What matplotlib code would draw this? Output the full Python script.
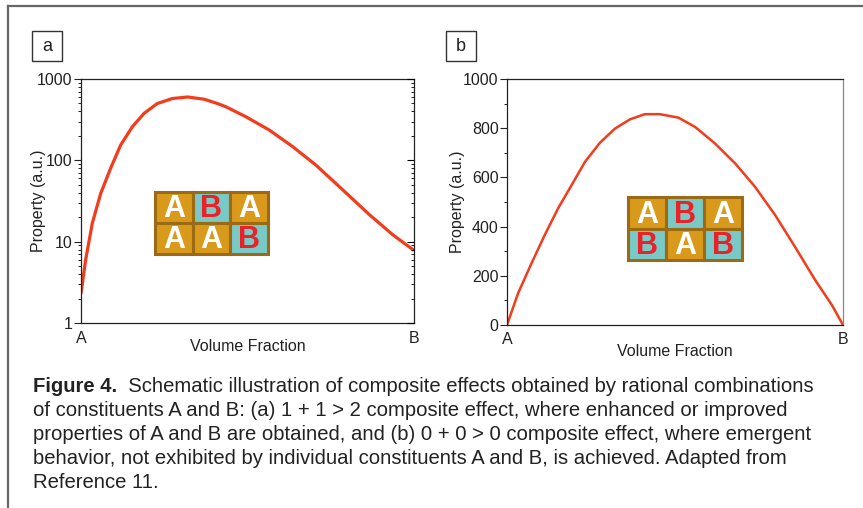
import numpy as np
import matplotlib
matplotlib.use('Agg')
import matplotlib.pyplot as plt
from matplotlib.patches import Rectangle
from matplotlib.lines import Line2D
from matplotlib.ticker import LogLocator, MultipleLocator, NullFormatter

plt.rcParams['font.family'] = ['Liberation Sans', 'DejaVu Sans']

# panel a: 1 + 1 > 2, log scale
frac_a = [0.0, 0.014, 0.034, 0.059, 0.089, 0.119, 0.154, 0.189, 0.229, 0.274, 0.32,
          0.37, 0.41, 0.436, 0.496, 0.566, 0.636, 0.706, 0.787, 0.867, 0.937, 1.0]
prop_a = [2.3, 6.0, 16.9, 39, 80, 154, 258, 377, 499, 575, 601,
          564, 499, 454, 342, 235, 147, 87, 43, 21.3, 12.1, 7.8]

# panel b: 0 + 0 > 0, linear scale
frac_b = [0.0, 0.033, 0.073, 0.112, 0.152, 0.192, 0.232, 0.276, 0.321, 0.366, 0.41,
          0.455, 0.51, 0.56, 0.619, 0.679, 0.738, 0.798, 0.857, 0.917, 0.967, 1.0]
prop_b = [0, 129, 251, 365, 474, 568, 663, 740, 798, 836, 857,
          857, 843, 805, 738, 657, 562, 447, 318, 183, 81, 0]

grid_a = [['A', 'B', 'A'], ['A', 'A', 'B']]
grid_b = [['A', 'B', 'A'], ['B', 'A', 'B']]

caption_bold = 'Figure 4.'
caption_lines = [
    '  Schematic illustration of composite effects obtained by rational combinations',
    'of constituents A and B: (a) 1 + 1 > 2 composite effect, where enhanced or improved',
    'properties of A and B are obtained, and (b) 0 + 0 > 0 composite effect, where emergent',
    'behavior, not exhibited by individual constituents A and B, is achieved. Adapted from',
    'Reference 11.',
]

W, H = 863, 508
fig = plt.figure(figsize=(W / 100, H / 100), dpi=100)


def box(x0, y0, x1, y1):
    # pixel box (top-left origin) -> figure fraction rect
    return [x0 / W, (H - y1) / H, (x1 - x0) / W, (y1 - y0) / H]


curve_col = '#f23c1c'
gold = '#d99a1c'
teal = '#79c9c6'
edge = '#9a6a14'
red = '#ea2228'
txt = '#222222'
fs = 11.5

# frame
fig.add_artist(Line2D([7.5 / W, 7.5 / W], [0, 1 - 6 / H], color='#666666', lw=1.6))
fig.add_artist(Line2D([7.5 / W, 1], [1 - 6 / H, 1 - 6 / H], color='#666666', lw=1.6))

# panel a
ax = fig.add_axes(box(81, 79, 414, 323))
ax.plot(frac_a, prop_a, color=curve_col, lw=2.3, solid_capstyle='butt')
ax.set_yscale('log')
ax.set_xlim(0, 1)
ax.set_ylim(1, 1000)
ax.set_yticks([1, 10, 100, 1000])
ax.set_yticklabels(['1', '10', '100', '1000'])
ax.yaxis.set_minor_locator(LogLocator(base=10, subs=np.arange(2, 10)))
ax.yaxis.set_minor_formatter(NullFormatter())
ax.tick_params(axis='y', which='major', direction='out', length=5, width=0.8,
               labelsize=fs, pad=1, colors=txt)
ax.tick_params(axis='y', which='minor', direction='out', length=2.5, width=0.6)
ax.set_xticks([0, 1])
ax.set_xticklabels(['A', 'B'])
ax.tick_params(axis='x', length=0, labelsize=fs, pad=6, colors=txt)
ax.set_ylabel('Property (a.u.)', fontsize=fs, labelpad=-6, color=txt)
ax.set_xlabel('Volume Fraction', fontsize=fs, labelpad=-5, color=txt)
for s in ax.spines.values():
    s.set_linewidth(0.9)
    s.set_color('#222222')

# inward ticks on the right spine
ar = ax.twinx()
ar.set_yscale('log')
ar.set_ylim(1, 1000)
ar.set_yticks([1, 10, 100, 1000])
ar.yaxis.set_minor_locator(LogLocator(base=10, subs=np.arange(2, 10)))
ar.yaxis.set_minor_formatter(NullFormatter())
ar.tick_params(axis='y', which='major', direction='in', length=5, width=0.8, labelright=False)
ar.tick_params(axis='y', which='minor', direction='in', length=2.5, width=0.6)
for s in ar.spines.values():
    s.set_visible(False)

# panel b
bx = fig.add_axes(box(507, 79, 843, 325))
bx.plot(frac_b, prop_b, color=curve_col, lw=1.8)
bx.set_xlim(0, 1)
bx.set_ylim(0, 1000)
bx.yaxis.set_major_locator(MultipleLocator(200))
bx.yaxis.set_minor_locator(MultipleLocator(100))
bx.tick_params(axis='y', which='major', direction='out', length=5, width=0.8,
               labelsize=fs, pad=1, colors=txt)
bx.tick_params(axis='y', which='minor', direction='out', length=2.5, width=0.6)
bx.set_xticks([0, 1])
bx.set_xticklabels(['A', 'B'])
bx.tick_params(axis='x', length=0, labelsize=fs, pad=5, colors=txt)
bx.set_ylabel('Property (a.u.)', fontsize=fs, labelpad=-1, color=txt)
bx.set_xlabel('Volume Fraction', fontsize=fs, labelpad=-2, color=txt)
for s in bx.spines.values():
    s.set_linewidth(0.9)
    s.set_color('#222222')
bx.spines['right'].set_color('#888888')

# composite schematics
for rect, grid in ((box(155, 192, 268, 254), grid_a), (box(628, 197, 742, 260), grid_b)):
    gx = fig.add_axes(rect)
    gx.set_xlim(0, 3)
    gx.set_ylim(0, 2)
    gx.axis('off')
    for r, row in enumerate(grid):
        for c, letter in enumerate(row):
            y = 1 - r
            gx.add_patch(Rectangle((c, y), 1, 1, facecolor=gold if letter == 'A' else teal,
                                   edgecolor=edge, lw=2.2, clip_on=False))
            gx.text(c + 0.5, y + 0.44, letter, ha='center', va='center', fontsize=22,
                    fontweight='bold', color='white' if letter == 'A' else red)

# panel labels
for (x0, y0, lab) in ((32, 31, 'a'), (446, 31, 'b')):
    fig.add_artist(Rectangle((x0 / W, 1 - (y0 + 30) / H), 30 / W, 30 / H,
                             transform=fig.transFigure, facecolor='none',
                             edgecolor='#333333', lw=1.0))
    fig.text((x0 + 15) / W, 1 - (y0 + 15) / H, lab, ha='center', va='center',
             fontsize=13, color=txt)

# caption
cfs = 14.6
t0 = fig.text(33 / W, 1 - 387 / H, caption_bold, fontsize=cfs, fontweight='bold',
              va='center', color=txt)
fig.canvas.draw()
bb = t0.get_window_extent(fig.canvas.get_renderer())
fig.text(bb.x1 / W, 1 - 387 / H, caption_lines[0], fontsize=cfs, va='center', color=txt)
for i, line in enumerate(caption_lines[1:], start=1):
    fig.text(33 / W, 1 - (387 + 24 * i) / H, line, fontsize=cfs, va='center', color=txt)

fig.savefig('out.png', dpi=100)
